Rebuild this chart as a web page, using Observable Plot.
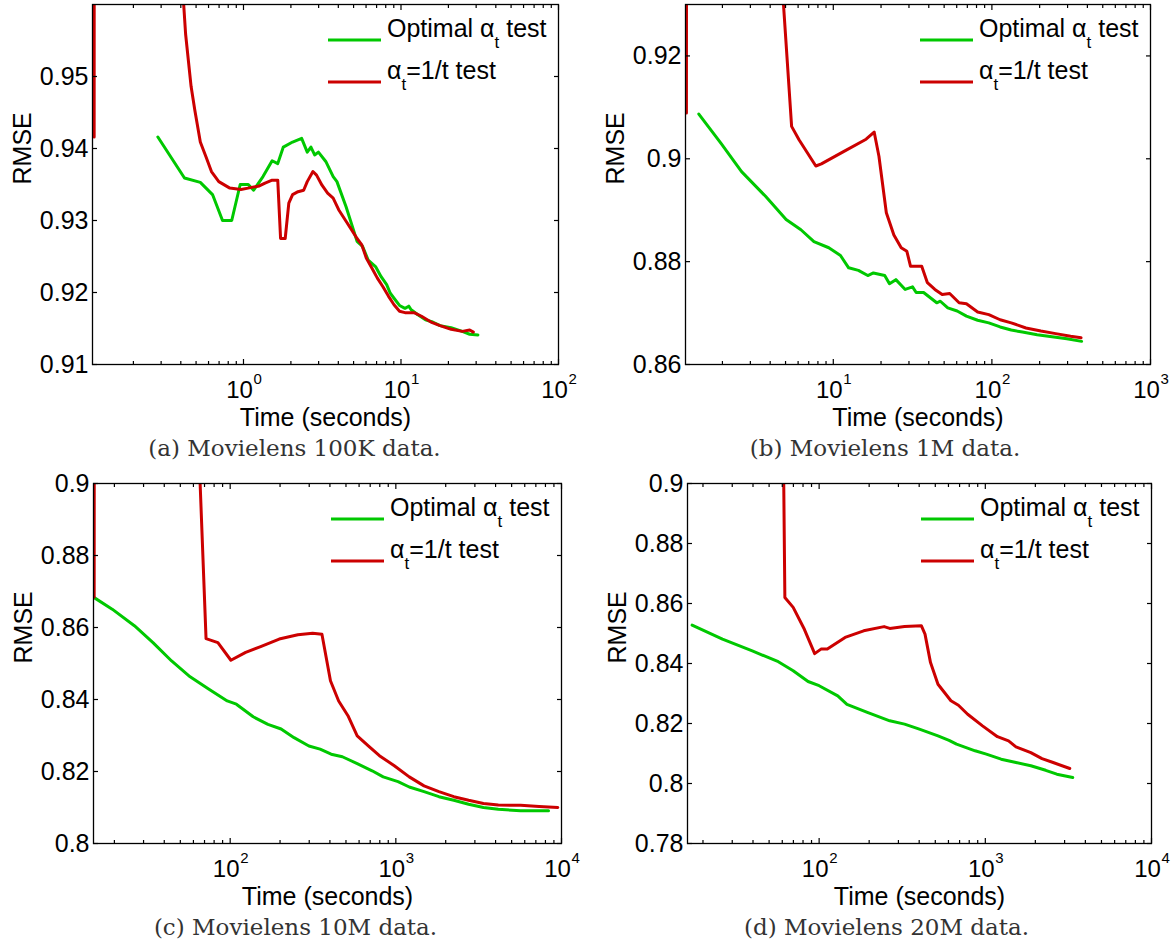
<!DOCTYPE html>
<html>
<head>
<meta charset="utf-8">
<script src="https://cdn.jsdelivr.net/npm/d3@7"></script>
<script src="https://cdn.jsdelivr.net/npm/@observablehq/plot@0.6"></script>
<style>
  html, body { margin: 0; padding: 0; background: #fff; }
  body { width: 1175px; height: 942px; position: relative; overflow: hidden; }
  .panel { position: absolute; }
  .panel svg { max-width: none !important; display: block; }
</style>
</head>
<body>
<script>
// ---------------- data ----------------
// (a) Movielens 100K
const aOptT = [0.286, 0.422, 0.532, 0.636, 0.736, 0.842, 0.953, 1.072, 1.16, 1.33, 1.52, 1.65, 1.79, 2.05, 2.34, 2.54, 2.68, 2.83, 2.99, 3.33, 3.71, 3.92, 4.48, 4.99, 5.26, 5.70, 6.19, 6.89, 7.48, 8.11, 8.55, 9.03, 9.79, 10.6, 11.2, 11.6, 12.8, 14.3, 15.9, 17.7, 20.8, 24.5, 27.3, 30.8];
const aOptR = [0.9416, 0.9359, 0.9353, 0.9336, 0.9300, 0.9300, 0.9350, 0.9350, 0.9342, 0.9361, 0.9383, 0.9379, 0.9402, 0.9409, 0.9414, 0.9395, 0.9402, 0.9391, 0.9395, 0.9382, 0.9361, 0.9354, 0.9319, 0.9287, 0.9271, 0.9264, 0.9245, 0.9236, 0.9222, 0.9211, 0.9199, 0.9192, 0.9182, 0.9178, 0.9181, 0.9176, 0.9169, 0.9162, 0.9159, 0.9154, 0.9151, 0.9146, 0.9142, 0.9141];
const aInvT = [0.1127, 0.1135, 0.406, 0.429, 0.465, 0.491, 0.532, 0.577, 0.626, 0.697, 0.819, 0.963, 1.07, 1.26, 1.37, 1.52, 1.65, 1.72, 1.84, 1.94, 2.05, 2.22, 2.41, 2.54, 2.76, 2.91, 3.15, 3.42, 3.71, 4.02, 4.48, 4.86, 5.26, 5.64, 6.02, 6.53, 7.08, 7.68, 8.32, 9.03, 9.79, 10.6, 12.1, 13.5, 15.5, 17.7, 20.8, 24.5, 27.3, 28.8];
const aInvR = [0.9416, 1.2, 0.964, 0.9559, 0.9486, 0.9453, 0.9409, 0.9389, 0.9368, 0.9354, 0.9345, 0.9343, 0.9345, 0.9348, 0.9352, 0.9356, 0.9356, 0.9275, 0.9275, 0.9324, 0.9336, 0.9340, 0.9342, 0.9354, 0.9368, 0.9363, 0.9349, 0.9338, 0.9331, 0.9315, 0.9299, 0.9287, 0.9275, 0.9266, 0.9248, 0.9234, 0.9220, 0.9208, 0.9195, 0.9183, 0.9174, 0.9172, 0.9172, 0.9167, 0.9159, 0.9154, 0.9149, 0.9146, 0.9148, 0.9145];

// (b) Movielens 1M
const bOptT = [1.42, 1.96, 2.64, 3.74, 5.04, 6.25, 7.55, 9.37, 11.1, 12.5, 14.4, 16.5, 17.9, 21.1, 22.6, 24.8, 28.4, 31.6, 33.3, 37.1, 44.9, 47.3, 52.7, 60.4, 69.1, 81.3, 95.6, 112.7, 132.4, 155.7, 192.9, 239.4, 297, 368];
const bOptR = [0.9087, 0.9030, 0.8975, 0.8927, 0.8882, 0.8862, 0.8839, 0.8827, 0.8812, 0.8788, 0.8783, 0.8773, 0.8778, 0.8773, 0.8757, 0.8765, 0.8746, 0.8751, 0.8740, 0.8740, 0.8720, 0.8723, 0.8710, 0.8704, 0.8694, 0.8686, 0.8681, 0.8673, 0.8667, 0.8663, 0.8658, 0.8654, 0.8650, 0.8645];
const bInvT = [1.186, 1.19, 4.64, 5.46, 6.08, 7.76, 8.41, 11.6, 16.1, 18.1, 19.4, 21.6, 24.1, 26.8, 29.1, 30.7, 33.3, 36.1, 39.2, 43.7, 48.6, 54.2, 62.1, 69.1, 81.3, 95.6, 112.7, 132.4, 164, 203.7, 252.5, 313.6, 364.8];
const bInvR = [0.9089, 1.0, 0.939, 0.9063, 0.9037, 0.8986, 0.8990, 0.9014, 0.9038, 0.9052, 0.9005, 0.8895, 0.8852, 0.8827, 0.8820, 0.8791, 0.8791, 0.8791, 0.8759, 0.8746, 0.8736, 0.8738, 0.8720, 0.8718, 0.8702, 0.8697, 0.8687, 0.8681, 0.8671, 0.8665, 0.8660, 0.8655, 0.8652];

// (c) Movielens 10M
const cOptT = [15.1, 19.4, 26.4, 34.2, 44.3, 57.3, 74.1, 96, 109, 137.7, 169, 203, 243, 298.7, 349, 407, 475.6, 584.5, 719, 839, 1031, 1205, 1480, 1820, 2238, 2750, 3380, 4155, 5665, 8350];
const cOptR = [0.8683, 0.8651, 0.8605, 0.8558, 0.8507, 0.8463, 0.8429, 0.8396, 0.8387, 0.8352, 0.8331, 0.8318, 0.8294, 0.8271, 0.8262, 0.8248, 0.8241, 0.8222, 0.8202, 0.8185, 0.8172, 0.8157, 0.8144, 0.8130, 0.8120, 0.8109, 0.8100, 0.8095, 0.8091, 0.8091];
const cInvT = [15.1, 15.15, 63.5, 71.5, 84.3, 101, 124, 152.7, 197.7, 256, 314.6, 358, 403, 451.6, 514, 584.5, 682, 796, 979, 1205, 1480, 1820, 2238, 2750, 3380, 4155, 5665, 7330, 9500];
const cInvR = [0.8685, 1.0, 0.919, 0.8569, 0.8558, 0.8509, 0.8531, 0.8547, 0.8568, 0.8580, 0.8584, 0.8581, 0.8452, 0.8396, 0.8355, 0.8299, 0.8271, 0.8244, 0.8216, 0.8185, 0.8160, 0.8144, 0.8130, 0.8120, 0.8111, 0.8107, 0.8106, 0.8103, 0.8100];

// (d) Movielens 20M
const dOptT = [17.2, 26.2, 39.6, 56.8, 69.8, 85.8, 100, 129.4, 147, 195, 266, 326.6, 401, 519, 605, 671, 868, 1014, 1245, 1529, 1879, 2308, 2693, 3359];
const dOptR = [0.8528, 0.8481, 0.8442, 0.8406, 0.8376, 0.8340, 0.8326, 0.8292, 0.8264, 0.8237, 0.8209, 0.8198, 0.8181, 0.8159, 0.8144, 0.8131, 0.8109, 0.8098, 0.8081, 0.8070, 0.8059, 0.8044, 0.8031, 0.8020];
const dInvT = [60.0, 62.2, 69.8, 81.5, 94, 102.6, 112, 143.3, 185.3, 246, 266, 326.6, 412, 433.6, 468, 519, 621, 689, 783, 962, 1183, 1380, 1529, 1879, 2193, 2559, 3223];
const dInvR = [0.95, 0.8620, 0.8587, 0.8514, 0.8433, 0.8448, 0.8448, 0.8487, 0.8509, 0.8523, 0.8517, 0.8523, 0.8526, 0.8498, 0.8403, 0.8331, 0.8276, 0.8261, 0.8231, 0.8192, 0.8156, 0.8142, 0.8122, 0.8103, 0.8083, 0.8070, 0.8050];

// tick values
const aYTicks = [0.91, 0.92, 0.93, 0.94, 0.95];
const bYTicks = [0.86, 0.88, 0.90, 0.92];
const cYTicks = [0.80, 0.82, 0.84, 0.86, 0.88, 0.90];
const dYTicks = [0.78, 0.80, 0.82, 0.84, 0.86, 0.88, 0.90];
const aXMajor = [1, 10, 100];
const bXMajor = [10, 100, 1000];
const cXMajor = [100, 1000, 10000];
const dXMajor = [100, 1000, 10000];

const captions = ["(a) Movielens 100K data.", "(b) Movielens 1M data.", "(c) Movielens 10M data.", "(d) Movielens 20M data."];
const legendLabels = ["Optimal α", "α"];
const xTitle = "Time (seconds)";
const yTitle = "RMSE";

// ---------------- drawing ----------------
const GREEN = "#00c800";
const RED = "#cc0000";
const SANS = "Liberation Sans, Arial, Helvetica, sans-serif";
const SERIF = "DejaVu Serif, serif";

function zip(T, R) { return T.map((t, i) => ({t, r: R[i]})); }
function minorTicks(domain) {
  const out = [];
  const lo = Math.floor(Math.log10(domain[0])), hi = Math.ceil(Math.log10(domain[1]));
  for (let e = lo; e < hi; e++) for (let m = 2; m <= 9; m++) {
    const v = m * Math.pow(10, e);
    if (v > domain[0] && v < domain[1]) out.push(v);
  }
  return out;
}
const fmtY = d => String(+d.toFixed(2));

function panel(cfg) {
  const {left, top, width, height, mL, mR, mT, mB, xDomain, yDomain, yTicks, xMajor, opt, inv, caption, capDx} = cfg;
  const xMinor = minorTicks(xDomain);
  const noText = () => "";
  const plot = Plot.plot({
    width, height,
    marginLeft: mL, marginRight: mR, marginTop: mT, marginBottom: mB,
    style: {fontFamily: SANS, background: "white", color: "black", maxWidth: "none"},
    x: {type: "log", domain: xDomain, label: null},
    y: {domain: yDomain, label: null},
    marks: [
      Plot.line(opt, {x: "t", y: "r", stroke: GREEN, strokeWidth: 3, clip: true}),
      Plot.line(inv, {x: "t", y: "r", stroke: RED, strokeWidth: 3, clip: true}),
      Plot.frame({stroke: "black", strokeWidth: 1.3}),
      Plot.axisY({anchor: "left", ticks: yTicks, tickSize: -5, tickPadding: 9, tickFormat: fmtY, fontSize: 25, label: null, strokeWidth: 1.2}),
      Plot.axisY({anchor: "right", ticks: yTicks, tickSize: -5, tickFormat: noText, label: null, strokeWidth: 1.2}),
      Plot.axisX({anchor: "bottom", ticks: xMajor, tickSize: -5, tickFormat: noText, label: null, strokeWidth: 1.2}),
      Plot.axisX({anchor: "bottom", ticks: xMinor, tickSize: -3, tickFormat: noText, label: null, strokeWidth: 1.2}),
      Plot.axisX({anchor: "top", ticks: xMajor, tickSize: -5, tickFormat: noText, label: null, strokeWidth: 1.2}),
      Plot.axisX({anchor: "top", ticks: xMinor, tickSize: -3, tickFormat: noText, label: null, strokeWidth: 1.2}),
      Plot.text(xMajor, {x: d => d, frameAnchor: "bottom", text: () => "10", dy: 33, dx: -4, lineAnchor: "bottom", textAnchor: "middle", fontSize: 24, fill: "black"}),
      Plot.text(xMajor, {x: d => d, frameAnchor: "bottom", text: d => String(Math.round(Math.log10(d))), dy: 19, dx: 10, lineAnchor: "bottom", textAnchor: "start", fontSize: 15, fill: "black"}),
      Plot.text([xTitle], {frameAnchor: "bottom", dy: 61, lineAnchor: "bottom", fontSize: 25, fill: "black"}),
      Plot.text([yTitle], {frameAnchor: "left", dx: -62, rotate: -90, lineAnchor: "bottom", fontSize: 25, fill: "black"}),
      Plot.text([caption], {frameAnchor: "bottom", dy: 91, dx: capDx, lineAnchor: "bottom", fontSize: 23, fontFamily: SERIF, fill: "#333"})
    ]
  });

  // in-plot legend (upper right)
  const svg = d3.select(plot);
  const R = width - mR;
  const g = svg.append("g").attr("font-family", SANS).attr("font-size", 25)
    .attr("fill", "black").attr("text-anchor", "start");
  const rows = [
    {color: GREEN, y: mT + 36, base: mT + 33, pre: legendLabels[0], post: " test"},
    {color: RED, y: mT + 78, base: mT + 75, pre: legendLabels[1], post: "=1/t test"}
  ];
  for (const row of rows) {
    g.append("line").attr("x1", R - 230).attr("x2", R - 177).attr("y1", row.y).attr("y2", row.y)
      .attr("stroke", row.color).attr("stroke-width", 3);
    const t = g.append("text").attr("x", R - 171).attr("y", row.base).attr("text-anchor", "start");
    t.append("tspan").text(row.pre);
    t.append("tspan").attr("dy", 11).attr("font-size", 17).text("t");
    t.append("tspan").attr("dy", -11).text(row.post);
  }

  const div = document.createElement("div");
  div.className = "panel";
  div.style.left = left + "px";
  div.style.top = top + "px";
  div.appendChild(plot);
  document.body.appendChild(div);
}

panel({left: 0, top: 0, width: 587, height: 460, mL: 92, mR: 29, mT: 4, mB: 96,
  xDomain: [0.110, 100], yDomain: [0.91, 0.96], yTicks: aYTicks, xMajor: aXMajor,
  opt: zip(aOptT, aOptR), inv: zip(aInvT, aInvR), caption: captions[0], capDx: -31});
panel({left: 587, top: 0, width: 588, height: 460, mL: 98, mR: 25, mT: 4, mB: 96,
  xDomain: [1.17, 1000], yDomain: [0.86, 0.93], yTicks: bYTicks, xMajor: bXMajor,
  opt: zip(bOptT, bOptR), inv: zip(bInvT, bInvR), caption: captions[1], capDx: -33});
panel({left: 0, top: 460, width: 587, height: 482, mL: 93, mR: 26, mT: 23, mB: 99,
  xDomain: [14.96, 10000], yDomain: [0.80, 0.90], yTicks: cYTicks, xMajor: cXMajor,
  opt: zip(cOptT, cOptR), inv: zip(cInvT, cInvR), caption: captions[2], capDx: -32});
panel({left: 587, top: 460, width: 588, height: 482, mL: 100, mR: 24, mT: 23, mB: 99,
  xDomain: [16.14, 10000], yDomain: [0.78, 0.90], yTicks: dYTicks, xMajor: dXMajor,
  opt: zip(dOptT, dOptR), inv: zip(dInvT, dInvR), caption: captions[3], capDx: -33});
</script>
</body>
</html>
